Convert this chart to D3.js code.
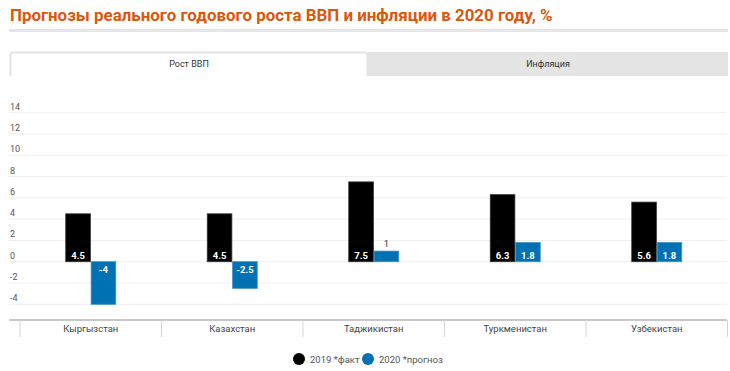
<!DOCTYPE html>
<html><head><meta charset="utf-8">
<script src="https://cdn.jsdelivr.net/npm/d3@7"></script>
<style>body{margin:0;background:#fff;font-family:Roboto,sans-serif}</style>
</head><body><svg id="c" width="730" height="371"></svg>
<script>
const categories = ["Кыргызстан","Казахстан","Таджикистан","Туркменистан","Узбекистан"];
const seriesNames = ["2019 *факт","2020 *прогноз"];
const values2019 = [4.5, 4.5, 7.5, 6.3, 5.6];
const values2020 = [-4, -2.5, 1, 1.8, 1.8];
const yTicks = [-4,-2,0,2,4,6,8,10,12,14];
const colors = ["#000000","#0071b3"];
const title = "Прогнозы реального годового роста ВВП и инфляции в 2020 году, %";
const tabs = ["Рост ВВП","Инфляция"];

const svg = d3.select("#c");
svg.append("text").attr("x",10).attr("y",21).attr("fill","#d9580d")
  .attr("font-size",16.9).attr("font-weight","bold").text(title);
svg.append("rect").attr("x",9).attr("y",29).attr("width",719).attr("height",3).attr("fill","#e6e6e6");

// tabs
svg.append("rect").attr("x",368).attr("y",52).attr("width",360).attr("height",24).attr("fill","#e5e5e5");
svg.append("path").attr("d","M10.5,76 V55 Q10.5,52.5 13,52.5 H365 Q367.5,52.5 367.5,55 V76")
  .attr("fill","#fff").attr("stroke","#e3e3e3").attr("stroke-width",2);
svg.append("text").attr("x",189).attr("y",67).attr("text-anchor","middle").attr("font-size",9).attr("fill","#333").text(tabs[0]);
svg.append("text").attr("x",548).attr("y",67).attr("text-anchor","middle").attr("font-size",9).attr("fill","#333").text(tabs[1]);

const y = d3.scaleLinear().domain([-4,14]).range([304.3,112.7]);
const x = d3.scaleBand().domain(categories).range([20,727.5]);
const inner = d3.scaleBand().domain(seriesNames).range([0,50]).paddingInner(0.03);

// grid
const g = svg.append("g");
g.selectAll("line.grid").data(yTicks).join("line")
  .attr("x1",9).attr("x2",727).attr("y1",d=>y(d)).attr("y2",d=>y(d))
  .attr("stroke","#efefef").attr("stroke-width",1);
g.selectAll("text.tick").data(yTicks).join("text")
  .attr("x",10).attr("y",d=>y(d)-3).attr("font-size",9).attr("fill","#555").text(d=>d);

// bars
const data = [];
categories.forEach((c,i)=>{
  data.push({c, s:seriesNames[0], v:values2019[i], col:colors[0]});
  data.push({c, s:seriesNames[1], v:values2020[i], col:colors[1]});
});
const bx = d => x(d.c) + x.bandwidth()/2 - 25 + inner(d.s);
svg.selectAll("rect.bar").data(data).join("rect")
  .attr("x",bx).attr("width",inner.bandwidth())
  .attr("y",d=>y(Math.max(0,d.v))).attr("height",d=>Math.abs(y(d.v)-y(0)))
  .attr("fill",d=>d.col).attr("stroke",d=>d.s===seriesNames[0]?"#333":"#3d8fc4").attr("stroke-width",0.8);
const small = d => Math.abs(y(d.v)-y(0))<14;
svg.selectAll("text.val").data(data).join("text")
  .attr("x",d=>bx(d)+inner.bandwidth()/2).attr("text-anchor","middle")
  .attr("font-size",9.5)
  .attr("fill",d=>small(d)?"#333":"#fff")
  .attr("font-weight",d=>small(d)?"normal":"bold")
  .attr("y",d=>{
    if(small(d)) return y(d.v)-4;
    return d.v>=0 ? y(0)-3 : y(0)+11;
  }).text(d=>d.v);

// x axis
svg.append("line").attr("x1",9).attr("x2",727).attr("y1",320).attr("y2",320).attr("stroke","#c8c8c8").attr("stroke-width",2);
const seps = categories.map(c=>x(c)).concat([x.range()[1]]);
svg.selectAll("line.sep").data(seps).join("line")
  .attr("x1",d=>d).attr("x2",d=>d).attr("y1",320).attr("y2",337).attr("stroke","#d5d5d5").attr("stroke-width",1);
svg.selectAll("text.cat").data(categories).join("text")
  .attr("x",c=>x(c)+x.bandwidth()/2).attr("y",332).attr("text-anchor","middle")
  .attr("font-size",9.5).attr("fill","#444").text(c=>c);

// legend
const leg = [{n:seriesNames[0],cx:299,tx:310,col:colors[0]},{n:seriesNames[1],cx:368,tx:379,col:colors[1]}];
leg.forEach(l=>{
  svg.append("circle").attr("cx",l.cx).attr("cy",359).attr("r",6).attr("fill",l.col);
  svg.append("text").attr("x",l.tx).attr("y",362.5).attr("font-size",9.5).attr("fill","#555").text(l.n);
});
</script></body></html>
